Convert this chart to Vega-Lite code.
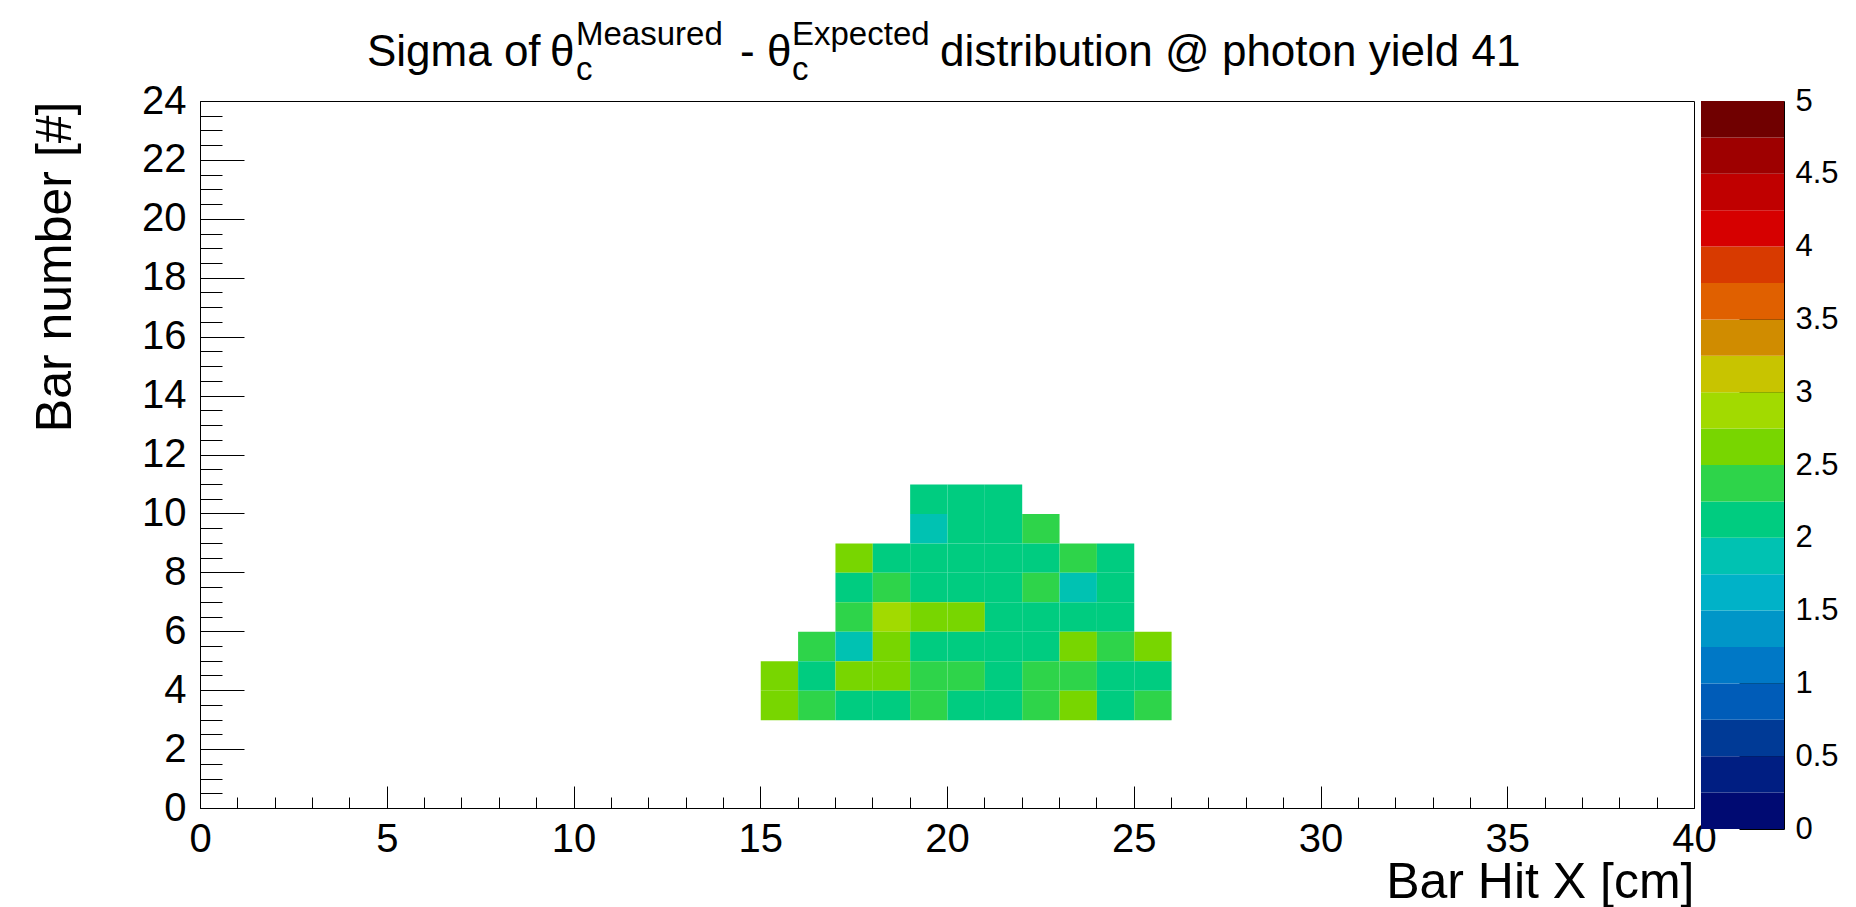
{
  "$schema": "https://vega.github.io/schema/vega-lite/v6.json",
  "background": "white",
  "padding": {"left": 30, "top": 18, "right": 0, "bottom": 0},
  "config": {
    "font": "Liberation Sans",
    "view": {"stroke": "black", "strokeWidth": 1},
    "axis": {"grid": false, "domainColor": "black", "tickColor": "black", "labelColor": "black", "titleColor": "black", "labelFont": "Liberation Sans", "titleFont": "Liberation Sans", "titleFontWeight": "normal", "labelFlush": false, "labelOverlap": false}
  },
  "bounds": "flush",
  "spacing": 7,
  "resolve": {"scale": {"color": "shared", "x": "independent", "y": "independent"}},
  "hconcat": [
    {
      "width": 1494,
      "height": 707,
      "resolve": {"axis": {"x": "independent", "y": "independent"}},
      "layer": [
        {
          "data": {"values": [
            {"hit": 19, "bar": 10, "sigma": 2.12}, {"hit": 20, "bar": 10, "sigma": 2.08}, {"hit": 21, "bar": 10, "sigma": 2.15},
            {"hit": 19, "bar": 9, "sigma": 1.92}, {"hit": 20, "bar": 9, "sigma": 2.10}, {"hit": 21, "bar": 9, "sigma": 2.14}, {"hit": 22, "bar": 9, "sigma": 2.33},
            {"hit": 17, "bar": 8, "sigma": 2.58}, {"hit": 18, "bar": 8, "sigma": 2.11}, {"hit": 19, "bar": 8, "sigma": 2.05}, {"hit": 20, "bar": 8, "sigma": 2.18}, {"hit": 21, "bar": 8, "sigma": 2.09}, {"hit": 22, "bar": 8, "sigma": 2.20}, {"hit": 23, "bar": 8, "sigma": 2.36}, {"hit": 24, "bar": 8, "sigma": 2.13},
            {"hit": 17, "bar": 7, "sigma": 2.17}, {"hit": 18, "bar": 7, "sigma": 2.31}, {"hit": 19, "bar": 7, "sigma": 2.06}, {"hit": 20, "bar": 7, "sigma": 2.12}, {"hit": 21, "bar": 7, "sigma": 2.19}, {"hit": 22, "bar": 7, "sigma": 2.42}, {"hit": 23, "bar": 7, "sigma": 1.88}, {"hit": 24, "bar": 7, "sigma": 2.10},
            {"hit": 17, "bar": 6, "sigma": 2.38}, {"hit": 18, "bar": 6, "sigma": 2.86}, {"hit": 19, "bar": 6, "sigma": 2.63}, {"hit": 20, "bar": 6, "sigma": 2.57}, {"hit": 21, "bar": 6, "sigma": 2.09}, {"hit": 22, "bar": 6, "sigma": 2.16}, {"hit": 23, "bar": 6, "sigma": 2.04}, {"hit": 24, "bar": 6, "sigma": 2.20},
            {"hit": 16, "bar": 5, "sigma": 2.35}, {"hit": 17, "bar": 5, "sigma": 1.94}, {"hit": 18, "bar": 5, "sigma": 2.60}, {"hit": 19, "bar": 5, "sigma": 2.13}, {"hit": 20, "bar": 5, "sigma": 2.07}, {"hit": 21, "bar": 5, "sigma": 2.22}, {"hit": 22, "bar": 5, "sigma": 2.10}, {"hit": 23, "bar": 5, "sigma": 2.66}, {"hit": 24, "bar": 5, "sigma": 2.29}, {"hit": 25, "bar": 5, "sigma": 2.55},
            {"hit": 15, "bar": 4, "sigma": 2.62}, {"hit": 16, "bar": 4, "sigma": 2.18}, {"hit": 17, "bar": 4, "sigma": 2.54}, {"hit": 18, "bar": 4, "sigma": 2.69}, {"hit": 19, "bar": 4, "sigma": 2.40}, {"hit": 20, "bar": 4, "sigma": 2.27}, {"hit": 21, "bar": 4, "sigma": 2.11}, {"hit": 22, "bar": 4, "sigma": 2.33}, {"hit": 23, "bar": 4, "sigma": 2.45}, {"hit": 24, "bar": 4, "sigma": 2.20}, {"hit": 25, "bar": 4, "sigma": 2.06},
            {"hit": 15, "bar": 3, "sigma": 2.71}, {"hit": 16, "bar": 3, "sigma": 2.39}, {"hit": 17, "bar": 3, "sigma": 2.15}, {"hit": 18, "bar": 3, "sigma": 2.03}, {"hit": 19, "bar": 3, "sigma": 2.30}, {"hit": 20, "bar": 3, "sigma": 2.14}, {"hit": 21, "bar": 3, "sigma": 2.08}, {"hit": 22, "bar": 3, "sigma": 2.37}, {"hit": 23, "bar": 3, "sigma": 2.64}, {"hit": 24, "bar": 3, "sigma": 2.12}, {"hit": 25, "bar": 3, "sigma": 2.34}
          ]},
          "mark": {"type": "rect"},
          "encoding": {
            "x": {
              "field": "hit", "type": "quantitative", "bin": {"binned": true, "step": 1},
              "scale": {"domain": [0, 40], "nice": false, "zero": false},
              "axis": {"orient": "bottom", "values": [0, 5, 10, 15, 20, 25, 30, 35, 40], "tickSize": -22, "labelPadding": 33, "labelFontSize": 40, "labelAngle": 0,
                       "title": "Bar Hit X [cm]", "titleAnchor": "end", "titleFontSize": 50, "titlePadding": -2}
            },
            "y": {
              "field": "bar", "type": "quantitative", "bin": {"binned": true, "step": 1},
              "scale": {"domain": [0, 24], "nice": false, "zero": false},
              "axis": {"orient": "left", "values": [0, 2, 4, 6, 8, 10, 12, 14, 16, 18, 20, 22, 24], "tickSize": -44, "labelPadding": 58, "labelFontSize": 40,
                       "title": "Bar number [#]", "titleAnchor": "end", "titleFontSize": 50, "titlePadding": 61}
            },
            "color": {
              "field": "sigma", "type": "quantitative",
              "scale": {"type": "quantize", "domain": [0, 5], "nice": false, "zero": false,
                        "range": ["#000a72", "#001e82", "#003a96", "#005cb8", "#0078c6", "#0096c8", "#00b2c8", "#00c2b2", "#00cc80", "#2ed44a", "#78d600", "#a2da00", "#c8c400", "#d08c00", "#e06000", "#d83a00", "#d60000", "#c00000", "#9e0000", "#700000"]},
              "legend": null
            }
          }
        },
        {
          "data": {"values": [{}]},
          "mark": {"type": "text", "text": "Sigma of", "fontSize": 44, "align": "left", "baseline": "alphabetic", "color": "black"},
          "encoding": {
            "x": {"datum": 4.47, "type": "quantitative",
                  "axis": {"orient": "bottom", "values": [1, 2, 3, 4, 6, 7, 8, 9, 11, 12, 13, 14, 16, 17, 18, 19, 21, 22, 23, 24, 26, 27, 28, 29, 31, 32, 33, 34, 36, 37, 38, 39],
                           "tickSize": -11, "labels": false, "domain": false, "title": null}},
            "y": {"datum": 25.19, "type": "quantitative",
                  "axis": {"orient": "left", "values": [0.5, 1, 1.5, 2.5, 3, 3.5, 4.5, 5, 5.5, 6.5, 7, 7.5, 8.5, 9, 9.5, 10.5, 11, 11.5, 12.5, 13, 13.5, 14.5, 15, 15.5, 16.5, 17, 17.5, 18.5, 19, 19.5, 20.5, 21, 21.5, 22.5, 23, 23.5],
                           "tickSize": -22, "labels": false, "domain": false, "title": null}}
          }
        },
        {
          "data": {"values": [{}]},
          "mark": {"type": "text", "text": "θ", "fontSize": 44, "align": "left", "baseline": "alphabetic", "color": "black"},
          "encoding": {"x": {"datum": 9.371, "type": "quantitative", "axis": null}, "y": {"datum": 25.19, "type": "quantitative", "axis": null}}
        },
        {
          "data": {"values": [{}]},
          "mark": {"type": "text", "text": "Measured", "fontSize": 33, "align": "left", "baseline": "alphabetic", "color": "black"},
          "encoding": {"x": {"datum": 10.067, "type": "quantitative", "axis": null}, "y": {"datum": 25.9, "type": "quantitative", "axis": null}}
        },
        {
          "data": {"values": [{}]},
          "mark": {"type": "text", "text": "c", "fontSize": 33, "align": "left", "baseline": "alphabetic", "color": "black"},
          "encoding": {"x": {"datum": 10.067, "type": "quantitative", "axis": null}, "y": {"datum": 24.71, "type": "quantitative", "axis": null}}
        },
        {
          "data": {"values": [{}]},
          "mark": {"type": "text", "text": "- θ", "fontSize": 44, "align": "left", "baseline": "alphabetic", "color": "black"},
          "encoding": {"x": {"datum": 14.458, "type": "quantitative", "axis": null}, "y": {"datum": 25.19, "type": "quantitative", "axis": null}}
        },
        {
          "data": {"values": [{}]},
          "mark": {"type": "text", "text": "Expected", "fontSize": 33, "align": "left", "baseline": "alphabetic", "color": "black"},
          "encoding": {"x": {"datum": 15.85, "type": "quantitative", "axis": null}, "y": {"datum": 25.9, "type": "quantitative", "axis": null}}
        },
        {
          "data": {"values": [{}]},
          "mark": {"type": "text", "text": "c", "fontSize": 33, "align": "left", "baseline": "alphabetic", "color": "black"},
          "encoding": {"x": {"datum": 15.85, "type": "quantitative", "axis": null}, "y": {"datum": 24.71, "type": "quantitative", "axis": null}}
        },
        {
          "data": {"values": [{}]},
          "mark": {"type": "text", "text": "distribution @ photon yield 41", "fontSize": 44, "align": "left", "baseline": "alphabetic", "color": "black"},
          "encoding": {"x": {"datum": 19.813, "type": "quantitative", "axis": null}, "y": {"datum": 25.19, "type": "quantitative", "axis": null}}
        }
      ]
    },
    {
      "width": 83,
      "height": 728,
      "view": {"stroke": null},
      "data": {"values": [
        {"lo": 0, "hi": 0.25, "level": 0.125}, {"lo": 0.25, "hi": 0.5, "level": 0.375}, {"lo": 0.5, "hi": 0.75, "level": 0.625}, {"lo": 0.75, "hi": 1, "level": 0.875},
        {"lo": 1, "hi": 1.25, "level": 1.125}, {"lo": 1.25, "hi": 1.5, "level": 1.375}, {"lo": 1.5, "hi": 1.75, "level": 1.625}, {"lo": 1.75, "hi": 2, "level": 1.875},
        {"lo": 2, "hi": 2.25, "level": 2.125}, {"lo": 2.25, "hi": 2.5, "level": 2.375}, {"lo": 2.5, "hi": 2.75, "level": 2.625}, {"lo": 2.75, "hi": 3, "level": 2.875},
        {"lo": 3, "hi": 3.25, "level": 3.125}, {"lo": 3.25, "hi": 3.5, "level": 3.375}, {"lo": 3.5, "hi": 3.75, "level": 3.625}, {"lo": 3.75, "hi": 4, "level": 3.875},
        {"lo": 4, "hi": 4.25, "level": 4.125}, {"lo": 4.25, "hi": 4.5, "level": 4.375}, {"lo": 4.5, "hi": 4.75, "level": 4.625}, {"lo": 4.75, "hi": 5, "level": 4.875}
      ]},
      "mark": {"type": "rect"},
      "encoding": {
        "x": {"value": 0},
        "x2": {"value": "width"},
        "y": {"field": "lo", "type": "quantitative", "scale": {"domain": [0, 5], "nice": false, "zero": false},
              "axis": {"orient": "right", "values": [0, 0.5, 1, 1.5, 2, 2.5, 3, 3.5, 4, 4.5, 5], "format": "~g", "tickSize": -45, "labelPadding": 56, "labelFontSize": 31, "title": null}},
        "y2": {"field": "hi"},
        "color": {"field": "level", "type": "quantitative",
                  "scale": {"type": "quantize", "domain": [0, 5], "nice": false, "zero": false,
                            "range": ["#000a72", "#001e82", "#003a96", "#005cb8", "#0078c6", "#0096c8", "#00b2c8", "#00c2b2", "#00cc80", "#2ed44a", "#78d600", "#a2da00", "#c8c400", "#d08c00", "#e06000", "#d83a00", "#d60000", "#c00000", "#9e0000", "#700000"]},
                  "legend": null}
      }
    }
  ]
}
